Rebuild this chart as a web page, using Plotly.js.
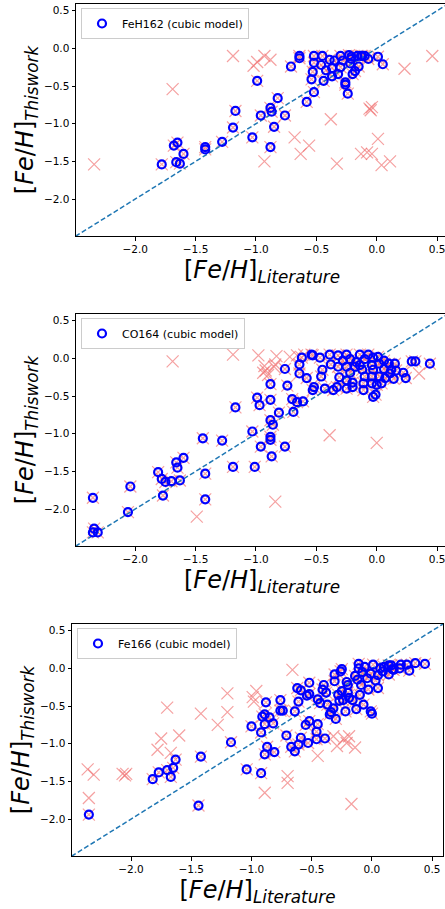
<!DOCTYPE html>
<html>
<head>
<meta charset="utf-8">
<script src="https://cdn.plot.ly/plotly-3.0.1.min.js"></script>
<style>
html,body{margin:0;padding:0;overflow:hidden;background:#fff;}
#chart{width:449px;height:909px;}
</style>
</head>
<body>
<div id="chart"></div>
<script>
const names = ["FeH162 (cubic model)", "CO164 (cubic model)", "Fe166 (cubic model)"];
const tickVals = [-2.0, -1.5, -1.0, -0.5, 0.0, 0.5];
const diag = [-2.6, 0.7];

// ---------- Panel 1: FeH162 ----------
const p1CircX = [-1.78,-1.68,-1.65,-1.66,-1.63,-1.60,-1.42,-1.42,-1.28,-1.19,-1.17,-1.03,-0.99,-0.96,-0.88,-0.87,-0.88,-0.85,-0.82,-0.76,-0.71,-0.64,-0.64,-0.58,-0.54,-0.53,-0.52,-0.52,-0.52,-0.45,-0.46,-0.44,-0.42,-0.39,-0.37,-0.37,-0.35,-0.32,-0.30,-0.30,-0.28,-0.26,-0.26,-0.24,-0.22,-0.21,-0.21,-0.20,-0.18,-0.16,-0.15,-0.13,-0.10,-0.07,0.01,0.05,-0.23,-0.12];
const p1CircY = [-1.54,-1.29,-1.25,-1.51,-1.53,-1.40,-1.31,-1.34,-1.24,-1.05,-0.83,-1.18,-0.43,-0.89,-0.79,-0.84,-1.31,-1.04,-0.66,-0.89,-0.24,-0.10,-0.13,-0.71,-0.41,-0.31,-0.10,-0.19,-0.58,-0.10,-0.22,-0.43,-0.29,-0.15,-0.26,-0.37,-0.16,-0.34,-0.10,-0.25,-0.16,-0.45,-0.48,-0.60,-0.20,-0.11,-0.14,-0.34,-0.30,-0.10,-0.24,-0.10,-0.10,-0.14,-0.11,-0.21,-0.09,-0.10];
const p1OnlyX = [-2.34,-1.69,-1.19,-1.02,-0.99,-0.93,-0.88,-0.93,-0.68,-0.63,-0.56,-0.38,-0.33,-0.13,-0.08,-0.04,-0.06,-0.05,-0.04,0.01,0.04,0.11,0.23,0.46];
const p1OnlyY = [-1.54,-0.54,-0.10,-0.23,-0.18,-0.10,-0.15,-1.50,-1.18,-1.40,-1.29,-0.94,-1.53,-1.40,-1.38,-1.40,-0.80,-0.82,-0.78,-1.20,-1.55,-1.50,-0.27,-0.10];

// ---------- Panel 2: CO164 ----------
const p2CircX = [-2.35,-2.34,-2.35,-2.31,-2.06,-2.04,-1.81,-1.78,-1.77,-1.75,-1.70,-1.66,-1.65,-1.63,-1.60,-1.44,-1.42,-1.42,-1.28,-1.19,-1.17,-1.03,-1.01,-0.99,-0.97,-0.96,-0.88,-0.88,-0.88,-0.88,-0.88,-0.87,-0.86,-0.81,-0.76,
  -0.54,-0.62,-0.76,-0.64,-0.64,-0.58,-0.74,-0.70,-0.66,-0.61,-0.69,-0.47,-0.45,-0.46,-0.52,-0.53,-0.43,-0.39,-0.38,-0.32,-0.32,-0.31,-0.36,-0.33,-0.25,-0.22,-0.25,-0.18,-0.22,-0.25,-0.20,-0.25,-0.20,-0.14,-0.10,-0.14,-0.12,-0.10,-0.11,-0.11,-0.07,-0.03,-0.04,-0.03,-0.04,-0.04,0.00,-0.03,-0.01,0.01,0.02,0.02,0.06,0.06,0.07,0.04,0.10,0.11,0.15,0.14,0.16,0.22,0.24,0.29,0.32,0.44,-0.53,-0.28,-0.17,0.12];
const p2CircY = [-1.85,-2.26,-2.31,-2.31,-2.04,-1.70,-1.51,-1.60,-1.82,-1.64,-1.63,-1.38,-1.45,-1.62,-1.32,-1.06,-1.53,-1.87,-1.09,-1.44,-0.65,-0.97,-1.44,-0.52,-0.62,-1.17,-0.34,-0.55,-0.82,-1.04,-1.08,-1.30,-0.88,-0.72,-1.17,
  0.05,0.01,-0.14,-0.08,-0.20,-0.26,-0.36,-0.54,-0.58,-0.57,-0.71,0.01,-0.15,-0.24,-0.38,-0.42,-0.40,0.05,-0.08,0.04,-0.11,-0.25,-0.42,-0.38,0.05,-0.01,-0.11,-0.11,-0.19,-0.29,-0.32,-0.40,-0.38,0.05,-0.01,-0.09,-0.15,-0.24,-0.33,-0.42,0.05,0.01,-0.09,-0.15,-0.24,-0.33,-0.35,-0.51,-0.48,0.02,-0.07,-0.24,-0.03,-0.14,-0.26,-0.33,-0.07,-0.20,-0.07,-0.27,-0.16,-0.19,-0.26,-0.04,-0.04,-0.07,0.04,-0.03,-0.05,-0.15];
const p2OnlyX = [-1.69,-1.19,-0.98,-0.83,-0.72,-0.93,-0.92,-0.94,-0.90,-0.85,-0.39,0.00,-0.84,-1.49,0.35,-0.66,-0.60,-0.84];
const p2OnlyY = [-0.04,0.05,0.04,0.03,0.02,-0.10,-0.16,-0.19,-0.22,-0.11,-1.02,-1.12,-1.90,-2.10,-0.20,0.04,0.05,-0.08];

// ---------- Panel 3: Fe166 ----------
const p3CircX = [-2.35,-1.82,-1.77,-1.70,-1.67,-1.65,-1.63,-1.44,-1.42,-1.17,-1.04,-1.00,-0.92,-0.92,-0.91,-0.89,-0.89,-0.89,-0.88,-0.87,-0.85,-0.82,-0.81,-0.76,-0.76,-0.74,-0.71,-0.67,-0.64,-0.64,-0.62,-0.61,-0.61,-0.59,-0.59,-0.55,-0.54,-0.53,-0.52,-0.52,-0.52,-0.46,-0.46,-0.45,-0.45,-0.43,-0.41,-0.40,-0.39,-0.38,-0.37,-0.35,-0.34,-0.32,-0.31,-0.31,-0.30,-0.28,-0.27,-0.26,-0.25,-0.25,-0.24,-0.22,-0.21,-0.20,-0.20,-0.19,-0.16,-0.14,-0.13,-0.12,-0.11,-0.11,-0.10,-0.09,-0.08,-0.07,-0.06,-0.04,-0.03,-0.01,-0.01,0.01,0.03,0.05,0.05,0.07,0.09,0.14,0.14,0.17,0.23,0.24,0.31,0.29,0.36,0.44,0.16,0.18,0.10,0.00];
const p3CircY = [-1.94,-1.47,-1.38,-1.35,-1.44,-1.32,-1.21,-1.82,-1.17,-0.98,-1.34,-0.77,-1.39,-0.85,-0.64,-0.61,-0.74,-1.14,-0.45,-1.04,-0.65,-0.73,-1.11,-0.42,-0.56,-0.56,-0.89,-1.04,-1.10,-0.57,-0.26,-0.44,-1.01,-0.29,-0.92,-0.75,-0.36,-0.99,-0.19,-0.70,-0.34,-0.84,-0.94,-0.74,-0.41,-0.46,-0.28,-0.22,-0.93,-0.32,-0.48,-0.61,-0.58,-0.53,-0.08,-0.17,-0.67,-0.35,-0.43,-0.04,-0.01,-0.30,-0.42,-0.57,-0.18,-0.22,-0.32,-0.39,-0.42,-0.10,-0.54,-0.15,0.00,0.06,-0.35,-0.22,-0.05,-0.48,0.02,-0.13,-0.28,-0.07,-0.57,0.05,-0.16,-0.26,-0.09,0.00,-0.04,0.04,-0.08,-0.01,0.00,0.05,-0.03,0.05,0.07,0.06,0.04,-0.02,0.02,-0.60];
const p3OnlyX = [-2.36,-2.31,-2.35,-2.07,-2.04,-2.05,-1.78,-1.75,-1.70,-1.67,-1.60,-1.42,-1.28,-1.20,-1.20,-0.99,-0.96,-0.98,-0.89,-0.70,-0.70,-0.66,-0.45,-0.32,-0.29,-0.23,-0.19,-0.21,-0.14,-0.17];
const p3OnlyY = [-1.34,-1.41,-1.72,-1.40,-1.40,-1.42,-1.08,-0.93,-0.52,-1.12,-0.89,-0.60,-0.75,-0.33,-0.58,-0.38,-0.30,-0.44,-1.65,-1.43,-1.52,-0.02,-1.16,-0.90,-1.03,-0.93,-0.90,-0.99,-1.05,-1.80];

const W = 449, H = 909;
const FONT = "DejaVu Sans, Liberation Sans, sans-serif";
const panels = [
  {cx:p1CircX, cy:p1CircY, ox:p1OnlyX, oy:p1OnlyY, left:76, right:448, top:4, bottom:236, legTop:8, legLeft:81},
  {cx:p2CircX, cy:p2CircY, ox:p2OnlyX, oy:p2OnlyY, left:76, right:448, top:314, bottom:546, legTop:318, legLeft:81},
  {cx:p3CircX, cy:p3CircY, ox:p3OnlyX, oy:p3OnlyY, left:72, right:443, top:624, bottom:856, legTop:628, legLeft:77}
];

const traces = [];
const layout = {
  width: W, height: H,
  margin: {l:0, r:0, t:0, b:0},
  paper_bgcolor: "#fff", plot_bgcolor: "#fff",
  showlegend: true,
  font: {family: FONT, color: "#000"}
};

panels.forEach((p, i) => {
  const n = i === 0 ? "" : String(i + 1);
  const xa = "x" + n, ya = "y" + n;
  const leg = "legend" + n;
  traces.push({
    x: p.cx.concat(p.ox), y: p.cy.concat(p.oy),
    xaxis: xa, yaxis: ya, type: "scatter", mode: "markers", showlegend: false,
    marker: {symbol: "x-thin-open", size: 12, line: {width: 1.2, color: "rgba(240,110,110,0.65)"}, color: "rgba(240,110,110,0.65)"},
    hoverinfo: "skip"
  });
  traces.push({
    x: diag, y: diag, xaxis: xa, yaxis: ya, type: "scatter", mode: "lines", showlegend: false,
    line: {color: "#1f77b4", width: 1.5, dash: "5px,2.5px"}, hoverinfo: "skip"
  });
  traces.push({
    x: p.cx, y: p.cy, xaxis: xa, yaxis: ya, type: "scatter", mode: "markers",
    name: names[i], legend: leg,
    marker: {symbol: "circle-open", size: 8, line: {width: 2.2, color: "#0000ff"}, color: "#0000ff"}
  });
  const axCommon = {
    range: [-2.49, 0.59], tickvals: tickVals, tickformat: ".1f",
    ticks: "outside", ticklen: 3.5, tickwidth: 1, tickcolor: "#000",
    showline: true, linecolor: "#000", linewidth: 1, mirror: true,
    showgrid: false, zeroline: false,
    tickfont: {family: FONT, size: 10.5, color: "#000"}
  };
  layout["xaxis" + n] = Object.assign({}, axCommon, {
    domain: [p.left / W, p.right / W], anchor: ya,
    title: {text: "[<i>Fe</i>/<i>H</i>]<sub><i>Literature</i></sub>", font: {family: FONT, size: 24, color: "#000"}, standoff: 7}
  });
  layout["yaxis" + n] = Object.assign({}, axCommon, {
    domain: [(H - p.bottom) / H, (H - p.top) / H], anchor: xa,
    title: {text: "[<i>Fe</i>/<i>H</i>]<sub><i>Thiswork</i></sub>", font: {family: FONT, size: 24, color: "#000"}, standoff: 3}
  });
  layout[leg] = {
    x: p.legLeft / W, y: (H - p.legTop) / H, xanchor: "left", yanchor: "top",
    xref: "paper", yref: "paper",
    bgcolor: "rgba(255,255,255,0.8)", bordercolor: "#cccccc", borderwidth: 1,
    font: {family: FONT, size: 11, color: "#000"}, itemwidth: 30
  };
});

Plotly.newPlot("chart", traces, layout, {displayModeBar: false, staticPlot: true});
</script>
</body>
</html>
